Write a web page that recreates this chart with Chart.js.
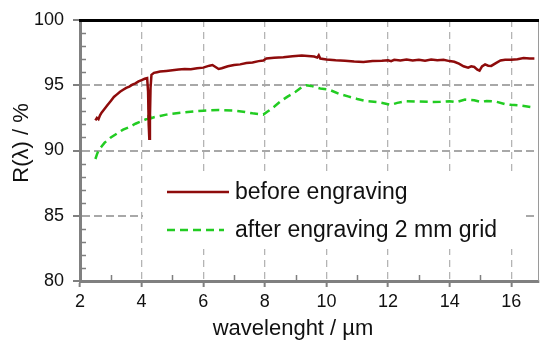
<!DOCTYPE html>
<html>
<head>
<meta charset="utf-8">
<script src="https://cdn.jsdelivr.net/npm/chart.js@4"></script>
<style>
  html, body { margin: 0; padding: 0; background: #fff; }
  #wrap { width: 540px; height: 342px; position: relative; }
</style>
</head>
<body>
<div id="wrap"><canvas id="specChart"></canvas></div>
<script>
    // --- data ---
    const seriesLabels = ['before engraving', 'after engraving 2 mm grid'];
    const axisTitles = ['wavelenght / µm', 'R(λ) / %'];
    const xTickValues = [2, 4, 6, 8, 10, 12, 14, 16];
    const yTickValues = [80, 85, 90, 95, 100];

    const beforeX = [2.50, 2.55, 2.60, 2.65, 2.70, 2.80, 2.90, 3.00, 3.10, 3.20, 3.30, 3.40, 3.50, 3.60, 3.70, 3.80, 3.90, 4.00, 4.10, 4.18,
        4.21, 4.23, 4.25, 4.27, 4.29, 4.32, 4.40, 4.50, 4.60, 4.80, 5.00, 5.20, 5.40, 5.60, 5.80, 6.00, 6.20, 6.30, 6.40, 6.50,
        6.60, 6.80, 7.00, 7.20, 7.40, 7.60, 7.80, 7.95, 8.05, 8.30, 8.60, 8.90, 9.20, 9.40, 9.60, 9.70, 9.75, 9.80, 10.00, 10.30,
        10.60, 10.90, 11.20, 11.50, 11.80, 12.00, 12.10, 12.20, 12.40, 12.60, 12.80, 13.00, 13.20, 13.40, 13.60, 13.80, 14.00, 14.15, 14.30, 14.45,
        14.60, 14.70, 14.80, 14.90, 14.97, 15.05, 15.15, 15.25, 15.35, 15.50, 15.65, 15.80, 16.00, 16.20, 16.40, 16.60, 16.75];
    const beforeY = [92.3, 92.5, 92.4, 92.7, 92.9, 93.2, 93.5, 93.8, 94.1, 94.3, 94.5, 94.65, 94.8, 94.9, 95.05, 95.15, 95.3, 95.4, 95.5, 95.55,
        94.5, 92.0, 90.9, 92.5, 94.8, 95.8, 95.95, 96.0, 96.05, 96.1, 96.15, 96.2, 96.25, 96.22, 96.3, 96.35, 96.5, 96.55, 96.4, 96.25,
        96.3, 96.45, 96.55, 96.6, 96.7, 96.75, 96.85, 96.9, 97.05, 97.1, 97.15, 97.22, 97.28, 97.25, 97.2, 97.12, 97.3, 97.05, 96.98, 96.92,
        96.88, 96.82, 96.78, 96.85, 96.88, 96.92, 96.85, 96.95, 96.9, 96.98, 96.9, 96.95, 96.88, 96.98, 96.92, 96.95, 96.85, 96.8, 96.65, 96.45,
        96.35, 96.45, 96.4, 96.2, 96.12, 96.45, 96.6, 96.5, 96.48, 96.7, 96.9, 96.95, 96.95, 97.0, 97.08, 97.05, 97.05];

    const afterX = [2.50, 2.55, 2.60, 2.70, 2.80, 2.90, 3.00, 3.20, 3.40, 3.60, 3.80, 4.00, 4.15, 4.22, 4.24, 4.25, 4.26, 4.28, 4.40, 4.60,
        4.80, 5.00, 5.50, 6.00, 6.50, 7.00, 7.30, 7.60, 7.95, 8.10, 8.30, 8.50, 8.75, 9.00, 9.20, 9.35, 9.50, 9.65, 9.80, 10.00,
        10.15, 10.40, 10.70, 11.00, 11.30, 11.70, 12.00, 12.10, 12.30, 12.60, 13.00, 13.40, 13.70, 14.00, 14.20, 14.50, 14.80, 15.00, 15.20, 15.50,
        15.80, 16.00, 16.30, 16.72];
    const afterY = [89.35, 89.7, 90.0, 90.3, 90.6, 90.8, 91.0, 91.3, 91.6, 91.8, 92.05, 92.25, 92.4, 92.45, 93.3, 94.4, 93.0, 92.45, 92.55, 92.65,
        92.75, 92.82, 92.95, 93.05, 93.1, 93.05, 92.97, 92.85, 92.75, 93.0, 93.35, 93.75, 94.15, 94.5, 94.85, 95.0, 94.95, 94.85, 94.75, 94.7,
        94.6, 94.35, 94.15, 93.95, 93.78, 93.7, 93.55, 93.5, 93.65, 93.78, 93.75, 93.72, 93.73, 93.78, 93.7, 93.9, 93.85, 93.72, 93.8, 93.75,
        93.55, 93.5, 93.45, 93.3];

    const xRange = [2, 16.9];
    const yRange = [80, 100];

    const FONT = "'Liberation Sans', Arial, sans-serif";

    function toPoints(xs, ys) {
        return xs.map((x, i) => ({ x: x, y: ys[i] }));
    }

    // minor ticks, top/right frame, axis titles and the boxed legend
    const framePlugin = {
        id: 'frame',
        afterDatasetsDraw(chart) {
            const { ctx, chartArea: a, scales } = chart;
            const xs = scales.x, ys = scales.y;
            ctx.save();
            ctx.strokeStyle = '#7f7f7f';
            ctx.lineWidth = 1.5;
            ctx.beginPath();
            for (let v = yRange[0] + 1; v < yRange[1]; v++) {
                if (v % 5 === 0) continue;
                const py = Math.round(ys.getPixelForValue(v)) + 0.5;
                ctx.moveTo(a.left, py);
                ctx.lineTo(a.left + 6, py);
            }
            for (let v = 3; v < xRange[1]; v += 2) {
                const px = Math.round(xs.getPixelForValue(v)) + 0.5;
                ctx.moveTo(px, a.bottom);
                ctx.lineTo(px, a.bottom - 6);
            }
            ctx.stroke();

            // right edge
            ctx.strokeStyle = '#9a9a9a';
            ctx.lineWidth = 1;
            ctx.beginPath();
            ctx.moveTo(a.right - 0.5, a.top);
            ctx.lineTo(a.right - 0.5, a.bottom);
            ctx.stroke();
            // top edge
            ctx.strokeStyle = '#000';
            ctx.lineWidth = 3;
            ctx.beginPath();
            ctx.moveTo(a.left - 1, a.top + 0.5);
            ctx.lineTo(a.right, a.top + 0.5);
            ctx.stroke();

            // legend box
            ctx.fillStyle = '#fff';
            ctx.fillRect(143, 176, 379, 73);
            const rows = [192, 230];
            chart.data.datasets.forEach((ds, i) => {
                ctx.strokeStyle = ds.borderColor;
                ctx.lineWidth = ds.borderWidth;
                ctx.setLineDash(ds.borderDash || []);
                ctx.beginPath();
                ctx.moveTo(167, rows[i]);
                ctx.lineTo(i === 0 ? 229 : 224, rows[i]);
                ctx.stroke();
                ctx.setLineDash([]);
                ctx.fillStyle = '#111';
                ctx.font = '23px ' + FONT;
                ctx.textBaseline = 'middle';
                ctx.textAlign = 'left';
                ctx.fillText(ds.label, 235, rows[i] + 1);
            });

            // axis titles
            ctx.fillStyle = '#111';
            ctx.font = '22px ' + FONT;
            ctx.textAlign = 'center';
            ctx.textBaseline = 'alphabetic';
            ctx.fillText(axisTitles[0], 293, 335);
            ctx.translate(22, 143);
            ctx.rotate(-Math.PI / 2);
            ctx.textBaseline = 'middle';
            ctx.fillText(axisTitles[1], 0, 0);
            ctx.restore();
        }
    };

    const specCtx = document.getElementById('specChart').getContext('2d');
    const specChart = new Chart(specCtx, {
        type: 'line',
        data: {
            datasets: [{
                label: seriesLabels[0],
                data: toPoints(beforeX, beforeY),
                borderColor: '#8e0b0b',
                borderWidth: 2.5,
                pointRadius: 0,
                tension: 0
            }, {
                label: seriesLabels[1],
                data: toPoints(afterX, afterY),
                borderColor: '#22cc22',
                borderWidth: 2.5,
                borderDash: [8, 5],
                pointRadius: 0,
                tension: 0
            }]
        },
        options: {
            responsive: true,
            maintainAspectRatio: false,
            animation: false,
            layout: { padding: { top: 20, right: 1, left: 0, bottom: 0 } },
            plugins: {
                legend: { display: false },
                tooltip: { enabled: false }
            },
            scales: {
                x: {
                    type: 'linear',
                    min: xRange[0],
                    max: xRange[1],
                    afterBuildTicks: (s) => { s.ticks = xTickValues.map(v => ({ value: v })); },
                    afterFit: (s) => { s.height = 61; },
                    ticks: { color: '#111', font: { family: FONT, size: 18 }, padding: 4, maxRotation: 0, autoSkip: false },
                    grid: {
                        color: (c) => (c.tick && c.tick.value === xRange[0]) ? 'rgba(0,0,0,0)' : '#b4b4b4',
                        lineWidth: 1.3,
                        tickColor: '#7f7f7f',
                        tickLength: 6,
                        tickWidth: 2,
                        tickBorderDash: []
                    },
                    border: { color: '#808080', width: 3, dash: [7, 5] }
                },
                y: {
                    min: yRange[0],
                    max: yRange[1],
                    afterBuildTicks: (s) => { s.ticks = yTickValues.map(v => ({ value: v })); },
                    afterFit: (s) => { s.width = 80; },
                    ticks: { color: '#111', font: { family: FONT, size: 18 }, padding: 9 },
                    grid: {
                        color: (c) => (c.tick && (c.tick.value === yRange[0] || c.tick.value === yRange[1])) ? 'rgba(0,0,0,0)' : '#a8a8a8',
                        lineWidth: 2,
                        tickColor: '#7f7f7f',
                        tickLength: 7,
                        tickWidth: 2,
                        tickBorderDash: []
                    },
                    border: { color: '#808080', width: 3, dash: [8, 4] }
                }
            }
        },
        plugins: [framePlugin]
    });
</script>
</body>
</html>
